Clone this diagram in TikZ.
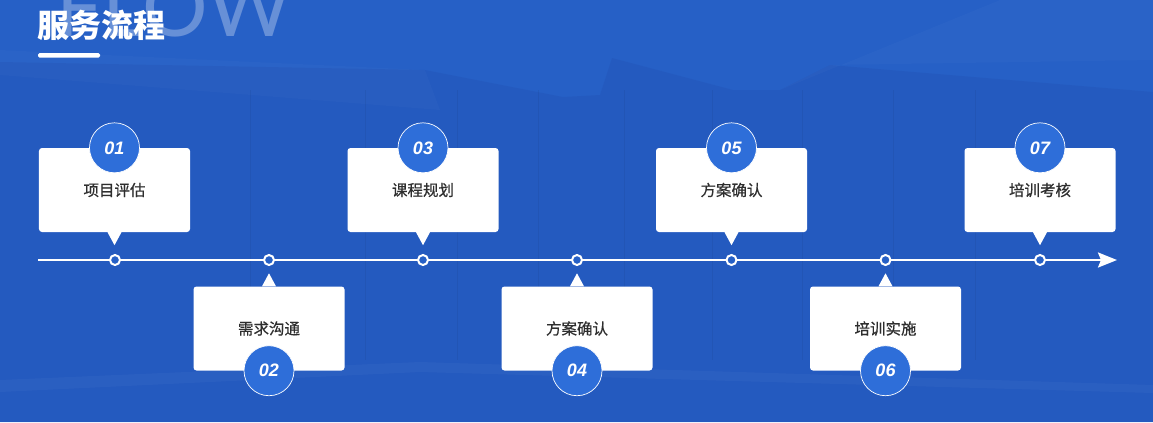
\documentclass[tikz,border=0pt]{standalone}
\usepackage{fontspec}
\setmainfont{Noto Sans CJK SC}
\newfontfamily\labfont{Noto Sans CJK SC}[FakeBold=0.6]
\newfontfamily\numfont{Liberation Sans}
\newfontfamily\flowfont{Lato}
\usepackage{tikz}
\usetikzlibrary{positioning,calc,arrows.meta}
\usepackage{xcolor}
\definecolor{bgblue}{HTML}{2660C6}
\definecolor{bgdark}{HTML}{2457BB}
\definecolor{numblue}{HTML}{2E6ED9}
\definecolor{txtdark}{HTML}{2E2E2E}

\begin{document}
\begin{tikzpicture}[x=1bp, y=-1bp,
  card/.style={fill=white, rounded corners=3bp, minimum width=151bp, minimum height=84bp,
    inner sep=0pt, text=txtdark, font=\labfont\fontsize{15.5bp}{18bp}\selectfont},
  numc/.style={circle, fill=numblue, draw=white, line width=0.7bp, minimum size=50bp, inner sep=0pt,
    text=white, font=\numfont\bfseries\itshape\fontsize{18bp}{20bp}\selectfont},
  dot/.style={circle, fill=bgblue, draw=white, line width=2bp, minimum size=10bp, inner sep=0pt},
  tline/.style={white, line width=2.2bp}]
% background
\clip (0,0) rectangle (1153,422);
\fill[bgblue] (0,0) rectangle (1153,422);
\fill[bgdark, opacity=0.6] (0,62) -- (425,70) -- (563,97) -- (600,95) -- (612,58) -- (733,90)
  -- (780,90) -- (830,65) -- (1153,92) -- (1153,422) -- (0,422) -- cycle;
\fill[white, opacity=0.02] (0,50) -- (425,70) -- (440,110) -- (0,75) -- cycle;
\fill[white, opacity=0.02] (1153,0) -- (1000,0) -- (780,90) -- (830,65) -- (1153,60) -- cycle;
\fill[white, opacity=0.03] (0,380) -- (420,362) -- (1153,385) -- (1153,393) -- (420,372) -- (0,392) -- cycle;
\foreach \vx in {250,365,457,538,624,712,802,893,975}
  \draw[black, opacity=0.05, line width=0.8bp] (\vx,90) -- (\vx,360);
\node[anchor=base east, text=white, opacity=0.3, inner sep=0pt,
  font=\flowfont\fontsize{82bp}{82bp}\selectfont] (flow) at (292,36) {FLOW};
% title
\node[anchor=west, inner sep=0pt, text=white, font=\bfseries\fontsize{32bp}{34bp}\selectfont] (title) at (37,25) {服务流程};
\fill[white, rounded corners=1.5bp] (38,53) rectangle (100,57.5);

% timeline
\coordinate (ls) at (38,260);
\coordinate (le) at (1117,260);
\draw[tline, -{Stealth[length=19bp, width=15bp, inset=3bp]}] (ls) -- (le);

% cards above the line
\node[card] (c1) at (114.5,190) {项目评估};
\node[card] (c3) at (423,190) {课程规划};
\node[card] (c5) at (731.5,190) {方案确认};
\node[card] (c7) at (1040,190) {培训考核};
% cards below the line
\node[card] (c2) at (269,328.5) {需求沟通};
\node[card] (c4) at (577,328.5) {方案确认};
\node[card] (c6) at (885.5,328.5) {培训实施};

% pointers
\fill[white] ([xshift=-7bp]c1.south) -- ([xshift=7bp]c1.south) -- ([yshift=-13bp]c1.south) -- cycle;
\fill[white] ([xshift=-7bp]c3.south) -- ([xshift=7bp]c3.south) -- ([yshift=-13bp]c3.south) -- cycle;
\fill[white] ([xshift=-7bp]c5.south) -- ([xshift=7bp]c5.south) -- ([yshift=-13bp]c5.south) -- cycle;
\fill[white] ([xshift=-7bp]c7.south) -- ([xshift=7bp]c7.south) -- ([yshift=-13bp]c7.south) -- cycle;
\fill[white] ([xshift=-7bp]c2.north) -- ([xshift=7bp]c2.north) -- ([yshift=13bp]c2.north) -- cycle;
\fill[white] ([xshift=-7bp]c4.north) -- ([xshift=7bp]c4.north) -- ([yshift=13bp]c4.north) -- cycle;
\fill[white] ([xshift=-7bp]c6.north) -- ([xshift=7bp]c6.north) -- ([yshift=13bp]c6.north) -- cycle;

% number badges
\node[numc] (n1) at (c1.north) {01};
\node[numc] (n3) at (c3.north) {03};
\node[numc] (n5) at (c5.north) {05};
\node[numc] (n7) at (c7.north) {07};
\node[numc] (n2) at (c2.south) {02};
\node[numc] (n4) at (c4.south) {04};
\node[numc] (n6) at (c6.south) {06};

% dots on the line
\node[dot] (d1) at (115,260) {};
\node[dot] (d2) at (269,260) {};
\node[dot] (d3) at (423,260) {};
\node[dot] (d4) at (577,260) {};
\node[dot] (d5) at (731.5,260) {};
\node[dot] (d6) at (885.5,260) {};
\node[dot] (d7) at (1040,260) {};
\end{tikzpicture}
\end{document}
